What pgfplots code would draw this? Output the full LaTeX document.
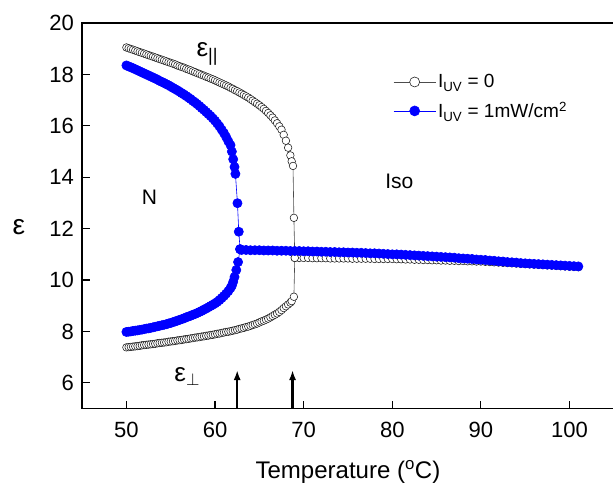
\documentclass[border=0pt]{standalone}
\usepackage{pgfplots}
\pgfplotsset{compat=1.18}
\usepackage{fontspec}
\setmainfont{Liberation Sans}
\usetikzlibrary{arrows.meta}
\definecolor{uvblue}{RGB}{0,0,255}
\begin{document}
\begin{tikzpicture}
\begin{axis}[
 scale only axis, width=531pt, height=385pt,
 xmin=45, xmax=105, ymin=5, ymax=20,
 xtick={50,60,...,100}, ytick={6,8,...,20},
 tick align=inside, xtick pos=bottom, ytick pos=left,
 major tick length=8pt,
 axis line style={line width=1.3pt},
 tick style={line width=1.1pt, black},
 /pgf/number format/assume math mode=true,
 tick label style={font=\fontsize{22}{26}\selectfont, inner sep=0pt},
 yticklabel style={xshift=-8pt},
 xticklabel style={yshift=-13.5pt},
 xlabel={Temperature (\textsuperscript{o}C)},
 xlabel style={at={(axis description cs:0.5,-0.182)}, anchor=base, font=\fontsize{24}{28}\selectfont},
 ylabel={ε},
 ylabel style={at={(axis description cs:-0.119,0.47)}, anchor=center, rotate=-90, font=\fontsize{28}{30}\selectfont},
 legend style={at={(axis cs:80.1,18.08)}, anchor=north west, draw=none, fill=none,
   font=\fontsize{19}{23}\selectfont, inner sep=0pt, row sep=9pt},
 legend cell align=left,
 legend image code/.code={\draw[mark repeat=2,mark phase=2,mark size=5pt] plot coordinates {(0pt,0pt)(21pt,0pt)(42pt,0pt)};},
]
% I_UV = 0, parallel branch + transition + isotropic
\addplot[color=black!70, line width=0.6pt, mark=*, mark size=3.8pt,
  mark options={draw=black!90, fill=white, line width=0.55pt, solid}] table {
50.00 19.05
50.25 19.02
50.50 18.99
50.75 18.96
51.00 18.93
51.25 18.90
51.50 18.87
51.75 18.84
52.00 18.81
52.25 18.78
52.50 18.75
52.75 18.72
53.00 18.69
53.25 18.66
53.50 18.63
53.75 18.60
54.00 18.57
54.25 18.54
54.50 18.51
54.75 18.48
55.00 18.45
55.25 18.42
55.50 18.39
55.75 18.35
56.00 18.32
56.25 18.29
56.50 18.26
56.75 18.22
57.00 18.19
57.25 18.16
57.50 18.12
57.75 18.09
58.00 18.05
58.25 18.02
58.50 17.98
58.75 17.95
59.00 17.91
59.25 17.88
59.50 17.84
59.75 17.81
60.00 17.77
60.25 17.73
60.50 17.69
60.75 17.65
61.00 17.61
61.25 17.57
61.50 17.53
61.75 17.48
62.00 17.44
62.25 17.39
62.50 17.35
62.75 17.30
63.00 17.25
63.25 17.20
63.50 17.15
63.75 17.10
64.00 17.04
64.25 16.98
64.50 16.92
64.75 16.86
65.00 16.80
65.25 16.73
65.50 16.66
65.75 16.58
66.00 16.50
66.25 16.41
66.50 16.32
66.75 16.21
67.00 16.10
67.25 15.98
67.50 15.85
67.75 15.65
68.00 15.42
68.25 15.15
68.50 14.85
68.65 14.62
68.80 14.44
68.90 12.42
69.00 10.86
69.50 10.86
70.00 10.86
70.50 10.86
71.00 10.85
71.50 10.85
72.00 10.85
72.50 10.85
73.00 10.84
73.50 10.84
74.00 10.84
74.50 10.84
75.00 10.84
75.50 10.83
76.00 10.83
76.50 10.83
77.00 10.83
77.50 10.83
78.00 10.82
78.50 10.82
79.00 10.82
79.50 10.82
80.00 10.82
80.50 10.81
81.00 10.81
81.50 10.80
82.00 10.80
82.50 10.79
83.00 10.79
83.50 10.78
84.00 10.78
84.50 10.77
85.00 10.77
85.50 10.76
86.00 10.76
86.50 10.75
87.00 10.75
87.50 10.74
88.00 10.74
88.50 10.73
89.00 10.73
89.50 10.72
90.00 10.72
90.50 10.71
91.00 10.70
91.50 10.69
92.00 10.68
92.50 10.67
93.00 10.66
93.50 10.65
94.00 10.64
94.50 10.63
95.00 10.62
95.50 10.61
96.00 10.60
96.50 10.59
97.00 10.58
97.50 10.57
98.00 10.56
98.50 10.55
99.00 10.54
99.50 10.53
100.00 10.52
100.50 10.51
101.00 10.50
};
\addlegendentry{I\textsubscript{UV} = 0}
% I_UV = 0, perpendicular branch
\addplot[forget plot, color=black!70, line width=0.6pt, mark=*, mark size=3.8pt,
  mark options={draw=black!90, fill=white, line width=0.55pt, solid}] table {
50.00 7.38
50.25 7.39
50.50 7.40
50.75 7.41
51.00 7.42
51.25 7.43
51.50 7.44
51.75 7.46
52.00 7.47
52.25 7.48
52.50 7.49
52.75 7.50
53.00 7.51
53.25 7.52
53.50 7.54
53.75 7.55
54.00 7.56
54.25 7.57
54.50 7.58
54.75 7.60
55.00 7.61
55.25 7.62
55.50 7.63
55.75 7.65
56.00 7.66
56.25 7.67
56.50 7.69
56.75 7.70
57.00 7.71
57.25 7.73
57.50 7.74
57.75 7.76
58.00 7.77
58.25 7.78
58.50 7.80
58.75 7.81
59.00 7.83
59.25 7.84
59.50 7.86
59.75 7.87
60.00 7.89
60.25 7.91
60.50 7.92
60.75 7.94
61.00 7.96
61.25 7.98
61.50 7.99
61.75 8.01
62.00 8.03
62.25 8.05
62.50 8.07
62.75 8.10
63.00 8.12
63.25 8.14
63.50 8.17
63.75 8.19
64.00 8.22
64.25 8.25
64.50 8.28
64.75 8.31
65.00 8.35
65.25 8.39
65.50 8.42
65.75 8.46
66.00 8.50
66.25 8.55
66.50 8.60
66.75 8.65
67.00 8.70
67.25 8.76
67.50 8.83
67.75 8.91
68.00 8.98
68.25 9.05
68.50 9.12
68.65 9.18
68.90 9.35
69.00 10.86
};
% I_UV = 1 mW/cm2, parallel branch + transition + isotropic
\addplot[color=uvblue, line width=0.6pt, mark=*, mark size=4.6pt,
  mark options={draw=uvblue, fill=uvblue, solid}] table {
50.00 18.35
50.25 18.31
50.50 18.28
50.75 18.24
51.00 18.20
51.25 18.16
51.50 18.12
51.75 18.08
52.00 18.04
52.25 18.00
52.50 17.96
52.75 17.92
53.00 17.88
53.25 17.84
53.50 17.80
53.75 17.75
54.00 17.71
54.25 17.67
54.50 17.62
54.75 17.58
55.00 17.53
55.25 17.48
55.50 17.43
55.75 17.38
56.00 17.33
56.25 17.27
56.50 17.22
56.75 17.16
57.00 17.10
57.25 17.04
57.50 16.97
57.75 16.91
58.00 16.84
58.25 16.77
58.50 16.69
58.75 16.62
59.00 16.54
59.25 16.46
59.50 16.38
59.75 16.29
60.00 16.20
60.25 16.09
60.50 15.98
60.75 15.85
61.00 15.72
61.25 15.57
61.50 15.40
61.75 15.25
61.90 15.00
62.05 14.70
62.20 14.40
62.30 14.13
62.53 12.99
62.68 11.88
62.83 11.20
63.00 11.17
63.50 11.17
64.00 11.16
64.50 11.16
65.00 11.16
65.50 11.15
66.00 11.15
66.50 11.15
67.00 11.14
67.50 11.14
68.00 11.14
68.50 11.13
69.00 11.13
69.50 11.13
70.00 11.12
70.50 11.12
71.00 11.11
71.50 11.11
72.00 11.10
72.50 11.10
73.00 11.09
73.50 11.09
74.00 11.08
74.50 11.08
75.00 11.07
75.50 11.07
76.00 11.06
76.50 11.06
77.00 11.05
77.50 11.04
78.00 11.04
78.50 11.03
79.00 11.02
79.50 11.01
80.00 11.00
80.50 11.00
81.00 10.99
81.50 10.98
82.00 10.97
82.50 10.96
83.00 10.95
83.50 10.94
84.00 10.93
84.50 10.92
85.00 10.91
85.50 10.90
86.00 10.89
86.50 10.88
87.00 10.87
87.50 10.85
88.00 10.84
88.50 10.83
89.00 10.82
89.50 10.80
90.00 10.79
90.50 10.78
91.00 10.76
91.50 10.75
92.00 10.73
92.50 10.72
93.00 10.70
93.50 10.69
94.00 10.68
94.50 10.66
95.00 10.65
95.50 10.64
96.00 10.63
96.50 10.62
97.00 10.61
97.50 10.60
98.00 10.59
98.50 10.58
99.00 10.57
99.50 10.56
100.00 10.55
100.50 10.54
101.00 10.53
};
\addlegendentry{I\textsubscript{UV} = 1mW/cm\textsuperscript{2}}
% I_UV = 1 mW/cm2, perpendicular branch
\addplot[forget plot, color=uvblue, line width=0.6pt, mark=*, mark size=4.6pt,
  mark options={draw=uvblue, fill=uvblue, solid}] table {
50.00 7.98
50.25 7.99
50.50 8.00
50.75 8.02
51.00 8.03
51.25 8.04
51.50 8.06
51.75 8.07
52.00 8.09
52.25 8.11
52.50 8.12
52.75 8.14
53.00 8.16
53.25 8.18
53.50 8.20
53.75 8.22
54.00 8.24
54.25 8.26
54.50 8.28
54.75 8.31
55.00 8.33
55.25 8.36
55.50 8.39
55.75 8.42
56.00 8.45
56.25 8.48
56.50 8.51
56.75 8.55
57.00 8.58
57.25 8.61
57.50 8.65
57.75 8.68
58.00 8.72
58.25 8.76
58.50 8.80
58.75 8.85
59.00 8.89
59.25 8.94
59.50 8.99
59.75 9.04
60.00 9.09
60.25 9.15
60.50 9.22
60.75 9.30
61.00 9.38
61.25 9.47
61.50 9.57
61.75 9.69
61.90 9.78
62.05 9.93
62.20 10.12
62.40 10.39
62.60 10.70
62.83 11.20
};
% annotations
\node[font=\fontsize{26}{30}\selectfont, anchor=base west, inner sep=0pt] at (axis cs:57.9,18.69) {ε\textsubscript{||}};
\node[font=\fontsize{26}{30}\selectfont, anchor=base west, inner sep=0pt] at (axis cs:55.4,6.05) {ε\textsubscript{$\perp$}};
\node[font=\fontsize{21}{25}\selectfont] at (axis cs:52.6,13.23) {N};
\node[font=\fontsize{21}{25}\selectfont] at (axis cs:80.8,13.82) {Iso};
\draw[line width=2.2pt, -{Latex[length=10pt,width=7pt]}] (axis cs:62.5,5) -- (axis cs:62.5,6.5);
\draw[line width=2.2pt, -{Latex[length=10pt,width=7pt]}] (axis cs:68.75,5) -- (axis cs:68.75,6.5);
\end{axis}
\pgfresetboundingbox
\path ([xshift=-82pt,yshift=-75pt]current axis.south west) rectangle ([xshift=-0.8pt,yshift=23pt]current axis.north east);
\end{tikzpicture}
\end{document}
